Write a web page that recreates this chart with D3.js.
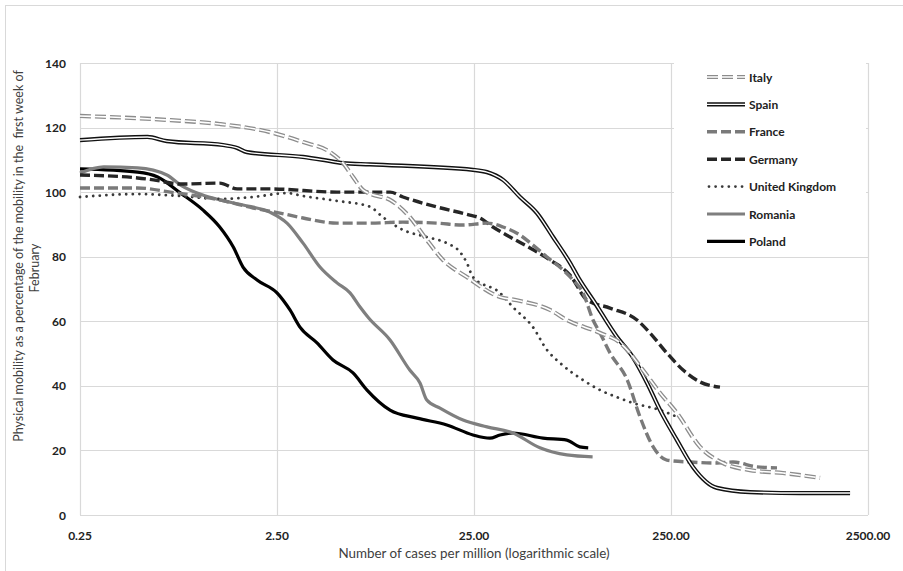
<!DOCTYPE html>
<html>
<head>
<meta charset="utf-8">
<script src="https://cdn.jsdelivr.net/npm/d3@7"></script>
<style>
  body { margin: 0; background: #fff; }
  text { font-family: Lato, "Open Sans", sans-serif; }
</style>
</head>
<body>
<div id="chart"></div>
<script>
// cases per million (x) vs mobility % (y)
const italy = [[0.25,123.6],[0.72,122.3],[1.28,121.1],[2.30,118.6],[3.39,115.5],[4.65,112.4],[5.41,109.0],[6.08,104.7],[6.84,100.6],[7.4,99.5],[9.37,97.6],[11.8,92.3],[14.4,85.2],[17.4,79.0],[23.0,73.7],[33.9,67.5],[41.3,66.5],[60.8,63.5],[74,60.4],[109,56.4],[138,53.3],[150,51.1],[180,44.9],[220,37.8],[268,31.6],[351,21.1],[459,16.1],[629,13.9],[926,13.0],[1427,11.5]];
const spain = [[0.25,116.1],[0.55,117.1],[0.69,115.8],[1.33,114.6],[1.57,113.7],[1.76,112.4],[3.39,110.9],[4.28,110.0],[5.41,109.0],[7.4,108.6],[24.7,106.9],[29.1,106.2],[35.1,103.8],[42.8,98.5],[52.2,93.5],[63,86.1],[76.8,78.1],[86,72.8],[100.5,66.6],[133,55.1],[160,48.9],[189,40.9],[220,32.5],[268,23.2],[323,14.9],[428,8.4],[629,7.1],[1130,6.8],[2027,6.8]];
const france = [[0.25,101.3],[0.49,101.3],[0.72,100.0],[1.28,97.6],[1.89,95.1],[2.59,93.5],[3.39,92.0],[5.04,90.4],[7.4,90.4],[10.9,90.7],[16.2,90.4],[22.0,89.8],[29.1,90.4],[35.1,89.2],[42.8,86.7],[49.8,83.6],[58.7,79.9],[70.8,75.9],[79.5,72.8],[89.4,68.8],[100.5,60.4],[109,56.4],[122.5,50.2],[150,41.8],[174,30.4],[203,21.1],[238,17.0],[312,16.4],[428,16.1],[516,16.4],[683,14.9],[863,14.6]];
const germany = [[0.25,105.3],[0.49,104.4],[0.59,103.8],[0.81,102.5],[1.28,102.8],[1.57,101.0],[2.30,101.0],[5.04,100.0],[7.4,100.0],[9.37,100.0],[10.9,98.5],[16.2,95.4],[23.8,92.9],[26.8,92.0],[31.2,89.2],[38.1,86.1],[48.1,82.7],[60.8,79.0],[76.8,74.3],[93.7,66.6],[122.5,64.1],[168,60.4],[195.5,56.4],[238,50.2],[288,44.9],[351,41.2],[443,39.6]];
const uk = [[0.25,98.5],[0.49,99.4],[0.81,98.8],[1.28,97.9],[1.89,98.5],[2.81,99.7],[3.39,98.8],[5.04,97.3],[7.4,95.5],[8.6,92.3],[10.9,88.3],[14.4,86.1],[18.2,84.2],[21.2,81.5],[23.0,78.1],[24.7,73.7],[33.9,68.8],[39.4,64.4],[49.8,58.2],[58.7,51.1],[68.3,47.1],[89.4,41.8],[109,38.7],[133,36.5],[160,34.7],[220,32.5],[278,30.0]];
const romania = [[0.25,105.9],[0.33,107.8],[0.49,107.5],[0.69,105.3],[0.81,102.2],[1.05,99.1],[1.28,97.6],[1.68,96.0],[2.30,93.8],[2.81,90.4],[3.39,84.2],[4.13,76.8],[5.04,71.9],[5.87,68.8],[6.6,64.4],[7.3,61.0],[9.37,54.2],[11.8,44.9],[13.3,40.9],[14.4,35.6],[16.8,33.1],[22.0,29.4],[29.1,27.3],[39.4,25.4],[54,20.8],[74,18.6],[100,18.0]];
const poland = [[0.25,107.2],[0.49,106.2],[0.62,104.7],[0.81,99.7],[1.05,94.5],[1.28,89.2],[1.50,83.0],[1.68,76.8],[1.98,72.8],[2.5,68.8],[2.91,63.5],[3.27,58.2],[3.99,53.3],[4.81,48.0],[6.08,44.0],[7.16,38.7],[9.37,32.5],[12.85,30.0],[18.2,27.9],[24.7,24.8],[30.1,23.8],[33.9,24.8],[39.4,25.4],[56,23.8],[74,23.2],[86,21.1],[95,20.8]];

const countries = ["Italy", "Spain", "France", "Germany", "United Kingdom", "Romania", "Poland"];
const xTicks = [0.25, 2.5, 25, 250, 2500];
const yTicks = [0, 20, 40, 60, 80, 100, 120, 140];

const width = 903, height = 571;
const plotLeft = 80, plotRight = 868, plotTop = 63, plotBottom = 515;

// line style per country; double lines get a white stroke on top
const styles = {
  "Italy":          { data: italy,   color: "#8c8c8c", w: 4.2, dash: "11,4", inner: 1.6 },
  "Spain":          { data: spain,   color: "#111",    w: 4.2, dash: null,   inner: 1.4 },
  "France":         { data: france,  color: "#7a7a7a", w: 3.4, dash: "10,4" },
  "Germany":        { data: germany, color: "#262626", w: 3.4, dash: "10,4" },
  "United Kingdom": { data: uk,      color: "#3a3a3a", w: 2.8, dash: "0.01,6.6" },
  "Romania":        { data: romania, color: "#7f7f7f", w: 3.2, dash: null },
  "Poland":         { data: poland,  color: "#000",    w: 3.2, dash: null }
};

const svg = d3.select("#chart").append("svg")
    .attr("width", width)
    .attr("height", height);

// outer chart frame
svg.append("rect")
    .attr("x", 5.5).attr("y", 5.5)
    .attr("width", 910).attr("height", 600)
    .attr("fill", "none").attr("stroke", "#d9d9d9");

const x = d3.scaleLog().domain([0.25, 2500]).range([plotLeft, plotRight]);
const y = d3.scaleLinear().domain([0, 140]).range([plotBottom, plotTop]);

// gridlines
svg.append("g").selectAll("line").data(yTicks).enter().append("line")
    .attr("x1", plotLeft).attr("x2", plotRight)
    .attr("y1", d => Math.round(y(d)) + 0.5).attr("y2", d => Math.round(y(d)) + 0.5)
    .attr("stroke", "#d9d9d9").attr("stroke-width", 1.2);

svg.append("g").selectAll("line").data(xTicks).enter().append("line")
    .attr("y1", plotTop).attr("y2", plotBottom)
    .attr("x1", d => Math.round(x(d)) + 0.5).attr("x2", d => Math.round(x(d)) + 0.5)
    .attr("stroke", "#d9d9d9").attr("stroke-width", 1.2);

// tick labels
svg.append("g").selectAll("text").data(yTicks).enter().append("text")
    .attr("x", 66).attr("y", d => y(d) + 4.5)
    .attr("text-anchor", "end")
    .attr("font-size", 12).attr("font-weight", "bold").attr("fill", "#222")
    .text(d => d);

svg.append("g").selectAll("text").data(xTicks).enter().append("text")
    .attr("x", d => x(d)).attr("y", 540)
    .attr("text-anchor", "middle")
    .attr("font-size", 12).attr("font-weight", "bold").attr("fill", "#222")
    .text(d => d3.format(".2f")(d));

// axis titles
svg.append("text")
    .attr("x", 474).attr("y", 558)
    .attr("text-anchor", "middle")
    .attr("font-size", 13.4).attr("fill", "#404040")
    .text("Number of cases per million (logarithmic scale)");

const yTitle = svg.append("text")
    .attr("transform", "translate(23,256) rotate(-90)")
    .attr("text-anchor", "middle")
    .attr("font-size", 12.5).attr("fill", "#404040");
yTitle.append("tspan").attr("x", 0).attr("y", 0)
    .text("Physical mobility as a percentage of the mobility in the\u00a0 first week of");
yTitle.append("tspan").attr("x", -12).attr("y", 16).text("February");

// lines
const line = d3.line()
    .x(d => x(d[0]))
    .y(d => y(d[1]))
    .curve(d3.curveMonotoneX);

const plot = svg.append("g");
countries.slice().reverse().forEach(function (c) {
    const s = styles[c];
    plot.append("path")
        .attr("d", line(s.data))
        .attr("fill", "none")
        .attr("stroke", s.color)
        .attr("stroke-width", s.w)
        .attr("stroke-dasharray", s.dash)
        .attr("stroke-linecap", c === "United Kingdom" ? "round" : "butt");
    if (s.inner) {
        plot.append("path")
            .attr("d", line(s.data))
            .attr("fill", "none")
            .attr("stroke", "#fff")
            .attr("stroke-width", s.inner)
            .attr("stroke-dasharray", s.dash);
    }
});

// legend with white background over the gridlines
svg.append("rect")
    .attr("x", 674).attr("y", 60)
    .attr("width", 192).attr("height", 192)
    .attr("fill", "#fff");

const legend = svg.append("g").selectAll("g").data(countries).enter().append("g")
    .attr("transform", (d, i) => "translate(707," + (77 + i * 27.4) + ")");

legend.append("line")
    .attr("x1", d => d === "United Kingdom" ? 2 : 0).attr("x2", 38)
    .attr("stroke", d => styles[d].color)
    .attr("stroke-width", d => styles[d].w)
    .attr("stroke-dasharray", d => styles[d].dash)
    .attr("stroke-linecap", d => d === "United Kingdom" ? "round" : "butt");

legend.filter(d => styles[d].inner).append("line")
    .attr("x1", 0).attr("x2", 38)
    .attr("stroke", "#fff")
    .attr("stroke-width", d => styles[d].inner)
    .attr("stroke-dasharray", d => styles[d].dash);

legend.append("text")
    .attr("x", 42).attr("y", 4.5)
    .attr("font-size", 12).attr("font-weight", "bold").attr("fill", "#222")
    .text(d => d);
</script>
</body>
</html>
